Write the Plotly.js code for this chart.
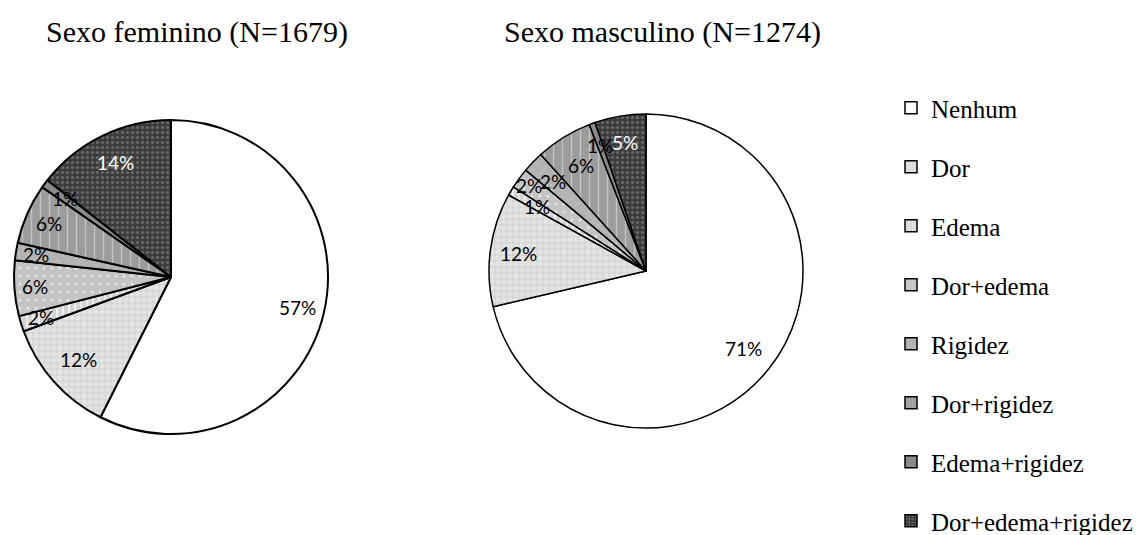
<!DOCTYPE html>
<html>
<head>
<meta charset="utf-8">
<script src="https://cdn.plot.ly/plotly-3.0.1.min.js"></script>
<style>
html,body{margin:0;padding:0;background:#fff;width:1142px;height:535px;overflow:hidden;}
#chart{width:1142px;height:570px;}
</style>
</head>
<body>
<div id="chart"></div>
<script>
// ---- data ----
const categories = ['Nenhum', 'Dor', 'Edema', 'Dor+edema', 'Rigidez', 'Dor+rigidez', 'Edema+rigidez', 'Dor+edema+rigidez'];
const femaleCounts = [964, 201, 27, 96, 30, 104, 15, 242];
const maleCounts = [909, 149, 12, 27, 28, 74, 8, 67];
const chartTitles = ['Sexo feminino (N=1679)', 'Sexo masculino (N=1274)'];

// ---- styles ----
// layout is a little taller than the 535px window so the tall legend is not squeezed;
// everything is placed in pixels measured from the top.
const W = 1142, H = 570;
const SERIF = 'Liberation Serif, Times New Roman, serif';
const fillColors = ['#ffffff', '#e4e4e4', '#d4d4d4', '#c4c4c4', '#b2b2b2', '#9c9c9c', '#8a8a8a', '#3c3c3c'];
const patShapes = ['', '+', '|', '.', 'x', '|', '', '.'];
const patFg = ['#ffffff', '#c8c8c8', '#f2f2f2', '#e4e4e4', '#c8c8c8', '#c4c4c4', '#8a8a8a', '#6a6a6a'];
const patSize = [6, 6, 6, 8, 8, 9, 6, 5];
const patSolidity = [0.3, 0.2, 0.3, 0.12, 0.12, 0.15, 0.3, 0.3];
const labelColors = ['#000', '#000', '#000', '#000', '#000', '#000', '#000', '#fff'];
const femaleLabelRadius = [0.83, 0.79, 0.87, 0.87, 0.87, 0.85, 0.84, 0.81];
const maleLabelRadius = [0.79, 0.82, 0.81, 0.92, 0.82, 0.79, 0.85, 0.83];

const py = v => 1 - v / H;   // pixel-from-top -> paper y
const pies = [
  {values: femaleCounts, radius: femaleLabelRadius, domain: {x: [14 / W, 328 / W], y: [py(434), py(120)]}, lw: 2},
  {values: maleCounts, radius: maleLabelRadius, domain: {x: [489 / W, 803 / W], y: [py(428), py(114)]}, lw: 1.5}
];

const traces = [];
const annotations = [];

pies.forEach((p, k) => {
  traces.push({
    type: 'pie',
    labels: categories,
    values: p.values,
    sort: false,
    direction: 'clockwise',
    rotation: 0,
    textposition: 'none',
    hoverinfo: 'label+percent',
    showlegend: false,
    domain: p.domain,
    marker: {
      colors: fillColors,
      line: {color: '#000', width: p.lw},
      pattern: {shape: patShapes, fgcolor: patFg, bgcolor: fillColors, size: patSize, solidity: patSolidity, fillmode: 'replace'}
    }
  });
  // label positions derived from the data (slice mid-angles)
  const total = p.values.reduce((a, b) => a + b, 0);
  const xc = (p.domain.x[0] + p.domain.x[1]) / 2;
  const yc = (p.domain.y[0] + p.domain.y[1]) / 2;
  const rpx = Math.min((p.domain.x[1] - p.domain.x[0]) * W, (p.domain.y[1] - p.domain.y[0]) * H) / 2;
  let cum = 0;
  p.values.forEach((v, i) => {
    const mid = (cum + v / 2) / total;
    cum += v;
    const th = 2 * Math.PI * mid;
    const f = p.radius[i];
    annotations.push({
      xref: 'paper', yref: 'paper',
      x: xc + f * rpx * Math.sin(th) / W,
      y: yc + f * rpx * Math.cos(th) / H,
      text: Math.round(v / total * 100) + '%',
      showarrow: false,
      xanchor: 'center', yanchor: 'middle',
      font: {family: 'Lato, Carlito, sans-serif', size: 19, color: labelColors[i]}
    });
  });
});

// titles
[[197, 32], [662, 32]].forEach((pos, k) => {
  annotations.push({
    xref: 'paper', yref: 'paper', x: pos[0] / W, y: py(pos[1]),
    text: chartTitles[k], showarrow: false, xanchor: 'center', yanchor: 'middle',
    font: {family: SERIF, size: 30, color: '#000'}
  });
});

// legend entries (one per category, each its own group for spacing)
categories.forEach((c, i) => {
  traces.push({
    type: 'bar', x: [null], y: [null], name: c, legendgroup: 'g' + i,
    xaxis: 'x', yaxis: 'y', hoverinfo: 'skip',
    marker: {
      color: fillColors[i],
      line: {color: '#000', width: 1.5},
      pattern: {shape: patShapes[i], fgcolor: patFg[i], bgcolor: fillColors[i], size: 4, solidity: patSolidity[i], fillmode: 'replace'}
    }
  });
});

const layout = {
  width: W, height: H,
  margin: {l: 0, r: 0, t: 0, b: 0},
  paper_bgcolor: '#fff', plot_bgcolor: '#fff',
  font: {family: SERIF, size: 25, color: '#000'},
  showlegend: true,
  xaxis: {visible: false, domain: [0.99, 1]},
  yaxis: {visible: false, domain: [0.99, 1]},
  legend: {
    x: 891 / W, xanchor: 'left', y: py(85), yanchor: 'top',
    traceorder: 'grouped', tracegroupgap: 23.5,
    font: {family: SERIF, size: 25, color: '#000'},
    bgcolor: 'rgba(0,0,0,0)', itemclick: false, itemdoubleclick: false
  },
  annotations: annotations
};

Plotly.newPlot('chart', traces, layout, {staticPlot: true, displayModeBar: false});
</script>
</body>
</html>
